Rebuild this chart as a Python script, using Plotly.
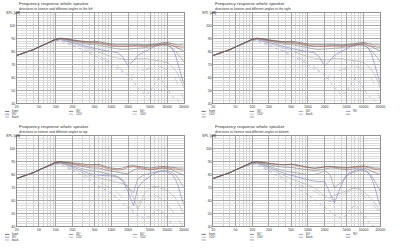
import math
import plotly.graph_objects as go

# ---------------- data ----------------
freqs = [20, 30, 40, 50, 70, 100, 120, 150, 200, 250, 300, 400, 500, 600, 800, 1000,
         1300, 1600, 2000, 2500, 3000, 4000, 5000, 6000, 7000, 8000, 10000, 12000,
         14000, 16000, 18000, 20000]

# left / right panels (identical measurements)
lr_front = [77, 79.5, 81.5, 83.5, 86.5, 89.5, 90.3, 90, 89, 88.3, 88, 87.6, 88, 87.5, 86.3, 85.8, 85.5, 85.6, 85.4, 86, 85.6, 85.2, 85.6, 85.4, 86, 86.6, 86.9, 86.2, 85.4, 85, 85.3, 85]
lr_red = [77, 79.5, 81.5, 83.5, 86.5, 89.4, 90.2, 89.8, 88.7, 88, 87.5, 87, 87.2, 86.6, 85.2, 84.6, 84.2, 84, 83.8, 84.2, 84, 84, 84.4, 84.2, 84.6, 85.2, 85.5, 84.7, 84, 83.6, 83.4, 83.2]
lr_a30 = [77, 79.5, 81.5, 83.5, 86.5, 89.4, 90.1, 89.6, 88.4, 87.6, 87, 86.4, 86.6, 86, 84.8, 84.4, 84, 84.2, 84.5, 85, 84.8, 84.4, 84.8, 85.2, 85.8, 86.2, 86.2, 85, 83.5, 82.5, 81.5, 80.5]
lr_a60 = [77, 79.5, 81.5, 83.5, 86.5, 89.3, 89.9, 89.2, 88, 87, 86.3, 85.3, 85.5, 84.8, 83.3, 82.7, 82, 81.5, 81.8, 82.3, 82.6, 83, 83.6, 84, 84.6, 85, 84.8, 83, 80.5, 78, 75, 72]
lr_a90 = [77, 79.5, 81.5, 83.5, 86.4, 89, 89.5, 88.5, 87, 85.8, 85, 83.5, 82.5, 81.5, 80.5, 80, 79, 76, 69, 73, 77, 80, 82.5, 84, 85, 85.5, 85, 83, 78, 70, 62, 55]
lr_a120 = [77, 79.5, 81.5, 83.5, 86.3, 88.8, 89, 88, 86.5, 85, 84, 82, 81, 79.5, 77.5, 76, 75, 74, 73.5, 74, 74.5, 74.5, 74, 73.5, 73, 72.5, 71.5, 69, 66, 62, 57, 52]
lr_a150 = [77, 79.5, 81.5, 83.5, 86.2, 88.6, 88.6, 87.3, 85.5, 83.8, 82.5, 80, 78, 76.5, 74, 72, 69, 65, 58, 62, 64, 66, 67.5, 68, 68.5, 68, 66, 63, 59, 54, 48, 43]
lr_back = [77, 79.5, 81.5, 83.5, 86, 88.4, 88.2, 86.8, 84.8, 83, 81.5, 79, 77, 75.5, 72.5, 70, 67, 64, 62, 57, 52, 47, 49, 55, 59, 58, 52, 46, 44, 42, 40, 40]

# top panel
t_front = [77, 79.5, 81.5, 83.5, 86.5, 89.5, 90, 89.6, 88.6, 88.2, 88, 87.6, 87.8, 87.8, 86, 85, 84.5, 85, 86.5, 86.8, 86.3, 85.5, 85, 85.5, 86, 86.2, 86, 85.5, 85.2, 85, 85, 85]
t_red = [77, 79.5, 81.5, 83.5, 86.5, 89.4, 89.9, 89.3, 88.2, 87.6, 87, 86.4, 86.5, 86.6, 85, 84, 83.5, 83.8, 85.5, 86, 85.5, 84.5, 84, 84.5, 85, 85.3, 85.2, 84.6, 84, 83.8, 83.5, 83.2]
t_a30 = [77, 79.5, 81.5, 83.5, 86.5, 89.3, 89.7, 88.9, 87.6, 86.8, 86, 85.2, 85, 85, 83.5, 82.5, 81.8, 81, 80.5, 83.5, 84.5, 84, 83.5, 84, 84.5, 84.8, 84.5, 83.8, 82.5, 81.5, 80.5, 79.5]
t_a60 = [77, 79.5, 81.5, 83.5, 86.4, 89.1, 89.4, 88.5, 86.8, 85.5, 84.5, 83, 82.8, 82.3, 81, 80, 78.5, 76, 70, 66, 77, 80, 81, 82, 82.5, 83, 83, 82, 80, 77, 73, 70]
t_a90 = [77, 79.5, 81.5, 83.5, 86.3, 88.9, 89, 88, 86, 84.3, 82.8, 80.8, 80, 79.5, 79, 79, 78, 75, 67, 56, 70, 76, 79, 81, 82, 82.5, 82, 80.5, 77, 71, 63, 57]
t_a120 = [77, 79.5, 81.5, 83.5, 86.2, 88.7, 88.6, 87.3, 85, 83, 81.5, 79.5, 78.5, 77.5, 76.5, 75.5, 74.5, 73, 71, 62, 53, 66, 70, 71, 70.5, 69.5, 67.5, 65, 62, 58, 54, 50]
t_a150 = [77, 79.5, 81.5, 83.5, 86, 88.4, 88.2, 86.6, 84, 82, 80.5, 78, 76.5, 74.5, 71.5, 69, 66, 62, 56, 52, 58, 61, 63.5, 64, 63, 61, 57, 53, 49, 45, 42, 40]
t_back = [77, 79.5, 81.5, 83.5, 85.9, 88.2, 87.8, 86, 83.2, 81.3, 79.5, 76, 73, 71, 68, 65, 62, 58, 54, 51, 48, 46, 48, 51, 53, 52, 47, 42, 40, 40, 40, 40]

# bottom panel
b_front = [77, 79.5, 81.5, 83.5, 86.5, 89.5, 90, 89.6, 88.6, 88, 87.6, 87.6, 88, 87.6, 86.3, 85.6, 85, 85.4, 86.4, 86.3, 86, 85.5, 85.4, 85.8, 86.2, 86.6, 86.6, 86, 85.3, 85, 85, 84.8]
b_red = [77, 79.5, 81.5, 83.5, 86.5, 89.4, 89.9, 89.4, 88.4, 87.8, 87.4, 87.3, 87.8, 87.3, 86, 85.3, 84.8, 85, 86, 85.8, 85.5, 85, 84.8, 85.3, 85.6, 86, 86, 85.3, 84.5, 84, 83.8, 83.5]
b_a30 = [77, 79.5, 81.5, 83.5, 86.5, 89.3, 89.7, 89, 87.6, 86.6, 86, 85.5, 85.5, 85, 84, 83.5, 83, 83.5, 84.5, 85, 85, 84, 83.5, 84, 84.5, 85, 85, 84, 82.5, 81.5, 80.5, 80]
b_a60 = [77, 79.5, 81.5, 83.5, 86.4, 89.1, 89.3, 88.3, 86.5, 85, 84, 82.5, 82, 81.3, 80.5, 80, 80, 81, 83, 80, 70, 74, 79, 81, 82, 83, 83, 81.5, 79, 75, 71, 67]
b_a90 = [77, 79.5, 81.5, 83.5, 86.3, 88.9, 88.9, 87.7, 85.5, 83.7, 82.3, 80.5, 79.5, 78.5, 77, 76, 75, 74.5, 75, 66, 58, 72, 80, 82, 83, 84, 84, 82, 77, 70, 62, 56]
b_a120 = [77, 79.5, 81.5, 83.5, 86.2, 88.7, 88.5, 87, 84.5, 82.5, 81, 78.5, 77, 75.5, 73.5, 72, 70, 67, 63, 62, 64, 66, 68, 69, 69.5, 69, 67, 64, 61, 58, 55, 52]
b_a150 = [77, 79.5, 81.5, 83.5, 86, 88.4, 88, 86.3, 83.5, 81.3, 79.5, 76.5, 74.5, 73, 71, 69.5, 67.5, 65, 61, 59, 61, 64, 66.5, 68, 68, 67, 64, 61, 58, 55, 52, 50]
b_back = [77, 79.5, 81.5, 83.5, 85.9, 88.2, 87.6, 85.6, 82.5, 80.3, 78.5, 75, 72.5, 70.5, 67.5, 64.5, 61, 58, 55, 52, 49, 46, 49, 54, 56, 54, 49, 44, 41, 40, 40, 40]

series_names = ["front", "30°", "60°", "90°", "120°", "150°", "back"]
subtitles = ["directions to listener and different angles to the left",
             "directions to listener and different angles to the right",
             "directions to listener and different angles to top",
             "directions to listener and different angles to bottom"]
main_title = "Frequency response whole speaker"
x_tick_vals = [20, 50, 100, 200, 500, 1000, 2000, 5000, 10000, 20000]
x_tick_text = ["20", "50", "100", "200", "500", "1000", "2000", "5000", "10000", "20000"]
y_tick_vals = [40, 50, 60, 70, 80, 90, 100]

# ---------------- styling ----------------
W, H = 400, 249
styles = {
    "front": dict(color="#505050", dash="solid"),
    "30°": dict(color="#767676", dash="solid"),
    "60°": dict(color="#8e8e8e", dash="solid"),
    "90°": dict(color="#7d7dc8", dash="solid"),
    "120°": dict(color="#acacac", dash="solid"),
    "150°": dict(color="#b8b8b8", dash="dash"),
    "back": dict(color="#9a9ad6", dash="dot"),
    "red": dict(color="#b4604c", dash="solid"),
}

panels = [
    dict(data=[lr_front, lr_a30, lr_a60, lr_a90, lr_a120, lr_a150, lr_back, lr_red], left=15, top=12.7),
    dict(data=[lr_front, lr_a30, lr_a60, lr_a90, lr_a120, lr_a150, lr_back, lr_red], left=215, top=12.7),
    dict(data=[t_front, t_a30, t_a60, t_a90, t_a120, t_a150, t_back, t_red], left=15, top=136.7),
    dict(data=[b_front, b_a30, b_a60, b_a90, b_a120, b_a150, b_back, b_red], left=215, top=136.7),
]
PW, PH = 170, 91.6

def px(x):
    return x / W

def py(y):
    return 1 - y / H

minor_x = []
for dec in [10, 100, 1000, 10000]:
    for m in range(1, 10):
        v = m * dec
        if 20 <= v <= 20000:
            minor_x.append(v)

fig = go.Figure()
layout = dict(width=W, height=H, margin=dict(l=0, r=0, t=0, b=0),
              paper_bgcolor="white", plot_bgcolor="white", showlegend=False,
              font=dict(family="Liberation Sans, Arial", color="#333"))
annotations = []
shapes = []

for i, p in enumerate(panels):
    n = "" if i == 0 else str(i + 1)
    xa, ya = "x" + n, "y" + n
    keys = ["front", "30°", "60°", "90°", "120°", "150°", "back", "red"]
    order = [6, 5, 4, 3, 2, 1, 7, 0]
    for k in order:
        st = styles[keys[k]]
        fig.add_trace(go.Scatter(x=freqs, y=p["data"][k], mode="lines", xaxis=xa, yaxis=ya,
                                 line=dict(color=st["color"], width=0.6, dash=st["dash"]),
                                 name=keys[k]))
    layout["xaxis" + n] = dict(
        type="log", range=[math.log10(20), math.log10(20000)],
        domain=[px(p["left"]), px(p["left"] + PW)], anchor=ya,
        tickmode="array", tickvals=x_tick_vals, ticktext=x_tick_text,
        tickfont=dict(size=3.5, color="#333"), ticks="", showline=True, mirror=True,
        linecolor="#909090", linewidth=0.6, showgrid=True, gridcolor="#a8a8a8", gridwidth=0.5,
        minor=dict(tickmode="array", tickvals=minor_x, showgrid=True, gridcolor="#d4d4d4", gridwidth=0.5, ticks=""),
        zeroline=False, fixedrange=True)
    layout["yaxis" + n] = dict(
        range=[40, 110], domain=[py(p["top"] + PH), py(p["top"])], anchor=xa,
        tickmode="array", tickvals=y_tick_vals,
        tickfont=dict(size=3.5, color="#333"), ticks="", showline=True, mirror=True,
        linecolor="#909090", linewidth=0.6, showgrid=True, gridcolor="#a8a8a8", gridwidth=0.5,
        minor=dict(dtick=2, showgrid=True, gridcolor="#dadada", gridwidth=0.5, ticks=""),
        zeroline=False, fixedrange=True)

    L, T = p["left"], p["top"]
    annotations.append(dict(x=px(L), y=py(T - 8.7), xref="paper", yref="paper", text=main_title,
                            showarrow=False, xanchor="left", yanchor="middle",
                            font=dict(size=4.4, color="#333")))
    annotations.append(dict(x=px(L), y=py(T - 3.4), xref="paper", yref="paper", text=subtitles[i],
                            showarrow=False, xanchor="left", yanchor="middle",
                            font=dict(size=3.3, color="#333")))
    annotations.append(dict(x=px(L - 13), y=py(T + 0.8), xref="paper", yref="paper", text="SPL [dB]",
                            showarrow=False, xanchor="left", yanchor="middle",
                            font=dict(size=3.6, color="#333")))

    # legend
    rowy = [T + 99.6, T + 102.4, T + 105.2]
    if i % 2 == 0:
        cols = [L - 12, L + 53, L + 118]
        entries = [("front", 0, 0), ("30°", 0, 1), ("60°", 0, 2),
                   ("90°", 1, 0), ("120°", 1, 1), ("150°", 1, 2),
                   ("back", 2, 0)]
    else:
        cols = [L - 12, L + 37, L + 87, L + 135]
        entries = [("front", 0, 0), ("30°", 0, 1), ("60°", 0, 2), ("90°", 0, 3),
                   ("120°", 1, 0), ("150°", 1, 1), ("back", 1, 2), ("", 1, 3),
                   ("", 2, 0), ("", 2, 1)]
    for name, r, c in entries:
        st = styles[name] if name else dict(color="#8a8a8a", dash="solid")
        x0 = cols[c]
        y0 = rowy[r]
        shapes.append(dict(type="line", xref="paper", yref="paper",
                           x0=px(x0), x1=px(x0 + 4.5), y0=py(y0), y1=py(y0),
                           line=dict(color=st["color"], width=0.8)))
        if name:
            annotations.append(dict(x=px(x0 + 5.2), y=py(y0), xref="paper", yref="paper", text=name,
                                    showarrow=False, xanchor="left", yanchor="middle",
                                    font=dict(size=3.1, color="#333")))

layout["annotations"] = annotations
layout["shapes"] = shapes
fig.update_layout(**layout)
fig.write_html("out.html")
